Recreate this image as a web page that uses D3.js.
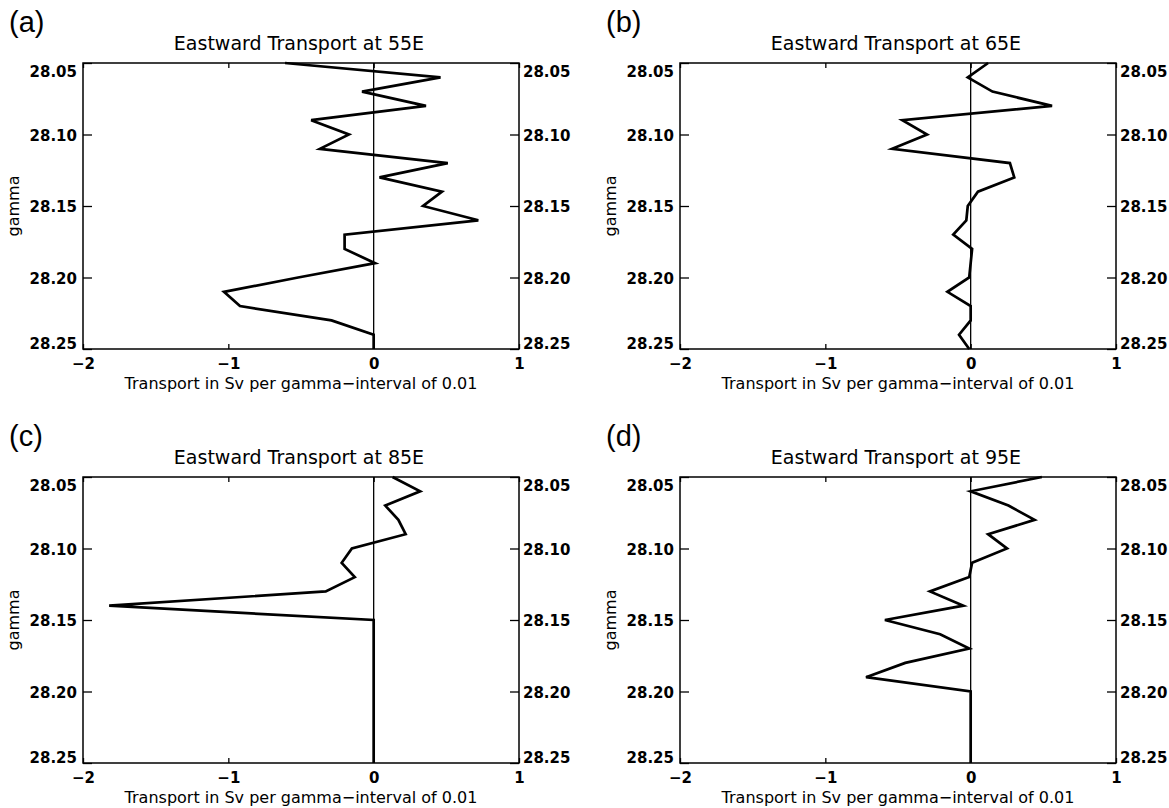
<!DOCTYPE html>
<html>
<head>
<meta charset="utf-8">
<script src="https://cdn.jsdelivr.net/npm/d3@7"></script>
<style>
    body { margin: 0; background: #fff; }
    svg { display: block; }
</style>
</head>
<body>
<div id="chart"></div>
<script>
"use strict";

// Neutral density levels (y axis), one value every 0.01
const gammaLevels = [28.05, 28.06, 28.07, 28.08, 28.09, 28.10, 28.11, 28.12, 28.13, 28.14,
    28.15, 28.16, 28.17, 28.18, 28.19, 28.20, 28.21, 28.22, 28.23, 28.24, 28.25];

// Transport in Sv per gamma-interval
const transport55E = [-0.61, 0.46, -0.08, 0.36, -0.43, -0.17, -0.37, 0.51, 0.04, 0.47,
    0.34, 0.72, -0.20, -0.20, 0.01, -0.52, -1.03, -0.92, -0.29, 0.00, 0.00];
const transport65E = [0.12, -0.02, 0.15, 0.56, -0.47, -0.30, -0.54, 0.27, 0.30, 0.05,
    -0.02, -0.03, -0.12, 0.01, 0.00, -0.01, -0.16, 0.00, 0.00, -0.08, -0.01];
const transport85E = [0.13, 0.32, 0.08, 0.17, 0.22, -0.15, -0.22, -0.13, -0.33, -1.82,
    0.00, 0.00, 0.00, 0.00, 0.00, 0.00, 0.00, 0.00, 0.00, 0.00, 0.00];
const transport95E = [0.49, 0.00, 0.26, 0.44, 0.12, 0.25, 0.01, -0.01, -0.28, -0.05,
    -0.59, -0.21, -0.01, -0.45, -0.72, 0.00, 0.00, 0.00, 0.00, 0.00, 0.00];

const panelLetters = ["(a)", "(b)", "(c)", "(d)"];
const panelTitles = ["Eastward Transport at 55E", "Eastward Transport at 65E",
    "Eastward Transport at 85E", "Eastward Transport at 95E"];
const panelSeries = [transport55E, transport65E, transport85E, transport95E];

const xTickValues = [-2, -1, 0, 1];
const yTickValues = [28.05, 28.10, 28.15, 28.20, 28.25];
const xLabel = "Transport in Sv per gamma\u2212interval of 0.01";
const yLabel = "gamma";

// Page layout
const width = 1169, height = 808;
const plotW = 436, plotH = 286;
const colX = [83, 680], rowY = [63, 477];

const svg = d3.select("#chart")
    .append("svg")
    .attr("width", width)
    .attr("height", height)
    .attr("viewBox", `0 0 ${width} ${height}`);

const x = d3.scaleLinear().domain([-2, 1]).range([0, plotW]);
const y = d3.scaleLinear().domain([28.05, 28.25]).range([0, plotH]);

const tickFont = "'DejaVu Sans', sans-serif";
const fmtX = d => d < 0 ? "\u2212" + Math.abs(d) : String(d);
const fmtY = d3.format(".2f");

// Push the end labels inside the frame, as the original plot does
function placeYLabels(sel) {
    sel.selectAll(".tick text")
        .attr("dy", null)
        .attr("y", d => d === yTickValues[0] ? 13 : d === yTickValues[yTickValues.length - 1] ? -1 : 5.5)
        .attr("font-family", tickFont)
        .attr("font-weight", "bold")
        .attr("font-size", 15)
        .attr("fill", "#000");
}

panelSeries.forEach((values, i) => {
    const ox = colX[i % 2], oy = rowY[Math.floor(i / 2)];
    const g = svg.append("g").attr("transform", `translate(${ox},${oy})`);

    // Panel letter and title
    g.append("text")
        .attr("x", -74).attr("y", -31)
        .attr("font-family", "'Liberation Sans', Arial, sans-serif")
        .attr("font-size", 29)
        .text(panelLetters[i]);

    g.append("text")
        .attr("x", plotW / 2 - 2).attr("y", -13.5)
        .attr("text-anchor", "middle")
        .attr("font-family", tickFont)
        .attr("font-size", 19)
        .text(panelTitles[i]);

    // Left axis
    g.append("g")
        .call(d3.axisLeft(y).tickValues(yTickValues).tickFormat(fmtY)
            .tickSizeInner(-9).tickSizeOuter(0).tickPadding(6))
        .call(placeYLabels);

    // Right axis
    g.append("g")
        .attr("transform", `translate(${plotW},0)`)
        .call(d3.axisRight(y).tickValues(yTickValues).tickFormat(fmtY)
            .tickSizeInner(-9).tickSizeOuter(0).tickPadding(4))
        .call(placeYLabels);

    // Bottom axis
    const bottom = g.append("g")
        .attr("transform", `translate(0,${plotH})`)
        .call(d3.axisBottom(x).tickValues(xTickValues).tickFormat(fmtX)
            .tickSizeInner(-5).tickSizeOuter(0).tickPadding(9));
    bottom.selectAll(".tick text")
        .attr("dy", null)
        .attr("y", 20)
        .attr("font-family", tickFont)
        .attr("font-weight", "bold")
        .attr("font-size", 15)
        .attr("fill", "#000");

    // Top axis: ticks only
    g.append("g")
        .call(d3.axisTop(x).tickValues(xTickValues).tickFormat("")
            .tickSizeInner(-5).tickSizeOuter(0));

    g.selectAll(".domain").remove();
    g.selectAll(".tick line").attr("stroke", "#000").attr("stroke-width", 1.3);

    // Frame
    g.append("rect")
        .attr("width", plotW).attr("height", plotH)
        .attr("fill", "none")
        .attr("stroke", "#000")
        .attr("stroke-width", 1.5);

    // Zero line
    g.append("line")
        .attr("x1", x(0)).attr("x2", x(0))
        .attr("y1", 0).attr("y2", plotH)
        .attr("stroke", "#000")
        .attr("stroke-width", 1.3);

    // Transport profile
    const line = d3.line()
        .x(d => x(d[1]))
        .y(d => y(d[0]));

    g.append("path")
        .datum(gammaLevels.map((gv, k) => [gv, values[k]]))
        .attr("d", line)
        .attr("fill", "none")
        .attr("stroke", "#000")
        .attr("stroke-width", 2.7)
        .attr("stroke-linejoin", "miter");

    // Axis titles
    g.append("text")
        .attr("x", plotW / 2).attr("y", plotH + 40)
        .attr("text-anchor", "middle")
        .attr("font-family", tickFont)
        .attr("font-size", 16)
        .text(xLabel);

    g.append("text")
        .attr("transform", `translate(-64,${plotH / 2}) rotate(-90)`)
        .attr("text-anchor", "middle")
        .attr("font-family", tickFont)
        .attr("font-size", 16)
        .text(yLabel);
});
</script>
</body>
</html>
